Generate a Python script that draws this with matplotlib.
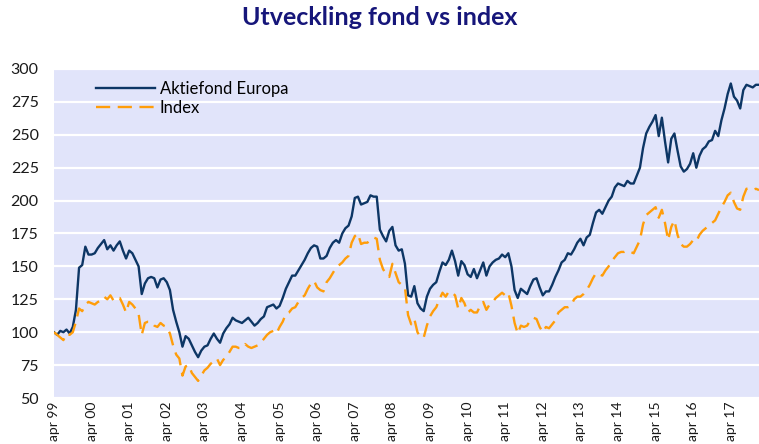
import matplotlib
matplotlib.use("Agg")
import matplotlib.pyplot as plt

# monthly values, apr 1999 .. jan 2018
fund = [
    100, 98, 101, 100, 102, 99, 104, 117, 149, 151, 165, 159,
    159, 160, 164, 167, 170, 163, 166, 162, 166, 169, 162, 156,
    162, 160, 155, 150, 129, 137, 141, 142, 141, 134, 140, 141,
    138, 132, 117, 108, 100, 89, 97, 95, 90, 85, 81, 86,
    89, 90, 95, 99, 95, 92, 99, 103, 106, 111, 109, 108,
    107, 109, 111, 108, 105, 107, 110, 112, 119, 120, 121, 118,
    120, 126, 133, 138, 143, 143, 147, 151, 155, 160, 164, 166,
    165, 156, 156, 158, 164, 168, 170, 168, 175, 179, 181, 188,
    202, 203, 197, 198, 199, 204, 203, 203, 178, 173, 169, 177,
    180, 166, 162, 163, 152, 128, 127, 135, 122, 118, 116, 127,
    133, 136, 138, 146, 153, 151, 155, 162, 154, 143, 154, 151,
    144, 142, 148, 141, 147, 153, 143, 150, 153, 155, 156, 159,
    157, 160, 150, 132, 126, 133, 131, 129, 135, 140, 141, 134,
    128, 131, 131, 136, 142, 147, 153, 155, 160, 159, 163, 168,
    171, 166, 172, 174, 183, 191, 193, 190, 195, 200, 203, 210,
    213, 212, 211, 215, 213, 213, 219, 225, 240, 251, 256, 260,
    265, 249, 263, 245, 229, 247, 251, 238, 226, 222, 224, 228,
    236, 225, 234, 239, 241, 245, 246, 253, 249, 261, 270, 281,
    289, 279, 276, 270, 284, 288, 287, 286, 288, 288,
]
index = [
    100, 98, 96, 94, 99, 98, 100, 108, 118, 116, 121, 123,
    122, 121, 123, 124, 127, 125, 128, 124, 126, 126, 121, 115,
    123, 121, 118, 114, 98, 107, 108, 108, 105, 104, 107, 105,
    104, 99, 90, 83, 80, 67, 74, 75, 69, 66, 63, 67,
    71, 73, 76, 78, 80, 75, 79, 81, 85, 89, 89, 88,
    88, 91, 89, 88, 89, 90, 92, 95, 98, 100, 101, 99,
    104, 108, 114, 115, 118, 119, 123, 126, 128, 133, 137, 139,
    134, 132, 131, 138, 141, 145, 149, 151, 153, 156, 158, 168,
    173, 175, 167, 168, 168, 170, 172, 171, 155, 148, 144, 142,
    152, 145, 138, 136, 134, 113, 106, 110, 100, 96, 96, 105,
    112, 116, 119, 125, 130, 127, 131, 130, 128, 118, 126, 122,
    115, 117, 115, 115, 120, 123, 117, 121, 123, 126, 128, 130,
    128, 130, 120, 107, 99, 105, 104, 105, 109, 111, 110, 104,
    100, 104, 103, 106, 109, 115, 117, 119, 119, 120, 125, 127,
    127, 129, 132, 136, 141, 145, 144, 143, 147, 150, 154, 157,
    160, 161, 161, 162, 161, 160, 165, 170, 182, 189, 191, 193,
    195, 187, 193, 183, 170, 180, 185, 174, 167, 165, 165, 167,
    170, 169, 174, 177, 179, 181, 183, 185, 190, 195, 199, 204,
    206, 199, 194, 193, 203, 209, 209, 208, 209, 208,
]
tick_labels = ["apr 99", "apr 00", "apr 01", "apr 02", "apr 03", "apr 04",
               "apr 05", "apr 06", "apr 07", "apr 08", "apr 09", "apr 10",
               "apr 11", "apr 12", "apr 13", "apr 14", "apr 15", "apr 16",
               "apr 17"]
y_ticks = [50, 75, 100, 125, 150, 175, 200, 225, 250, 275, 300]

NAVY = "#0d3665"
ORANGE = "#ff9d0a"
PANEL = "#e1e4fa"
TITLE_C = "#16167a"
TXT = "#1a1a1a"

plt.rcParams["font.family"] = ["Lato", "DejaVu Sans"]

fig = plt.figure(figsize=(7.59, 4.44), dpi=100)
ax = fig.add_axes([54 / 759, 1 - 398 / 444, 705 / 759, 329 / 444])
ax.set_facecolor(PANEL)

x = list(range(len(fund)))
ax.plot(x, fund, color=NAVY, lw=1.7, label="Aktiefond Europa", zorder=3)
ax.plot(x, index, color=ORANGE, lw=1.7, dashes=(6, 3.2),
        label="Index", zorder=3)

ax.set_xlim(0, len(fund) - 1)
ax.set_ylim(50, 300)
ax.set_yticks(y_ticks)
ax.set_yticklabels([str(v) for v in y_ticks], fontsize=11.5, color=TXT)
ax.set_xticks([12 * i for i in range(len(tick_labels))])
ax.set_xticklabels(tick_labels, rotation=90, fontsize=10, color=TXT,
                   va="top", ha="center")
ax.tick_params(axis="y", length=0, pad=11)
ax.tick_params(axis="x", length=0, pad=2.5)
ax.yaxis.grid(True, color="white", lw=1.6, zorder=1)
ax.set_axisbelow(True)
for s in ax.spines.values():
    s.set_visible(False)

ax.legend(loc="upper left", bbox_to_anchor=(0.048, 0.99), frameon=False,
          fontsize=12, handlelength=3.5, handletextpad=0.3,
          labelspacing=0.2, borderpad=0)

fig.text(0.5, 0.96, "Utveckling fond vs index", ha="center", va="center",
         fontsize=18, fontweight="bold", color=TITLE_C)

fig.savefig("out.png", dpi=100)
